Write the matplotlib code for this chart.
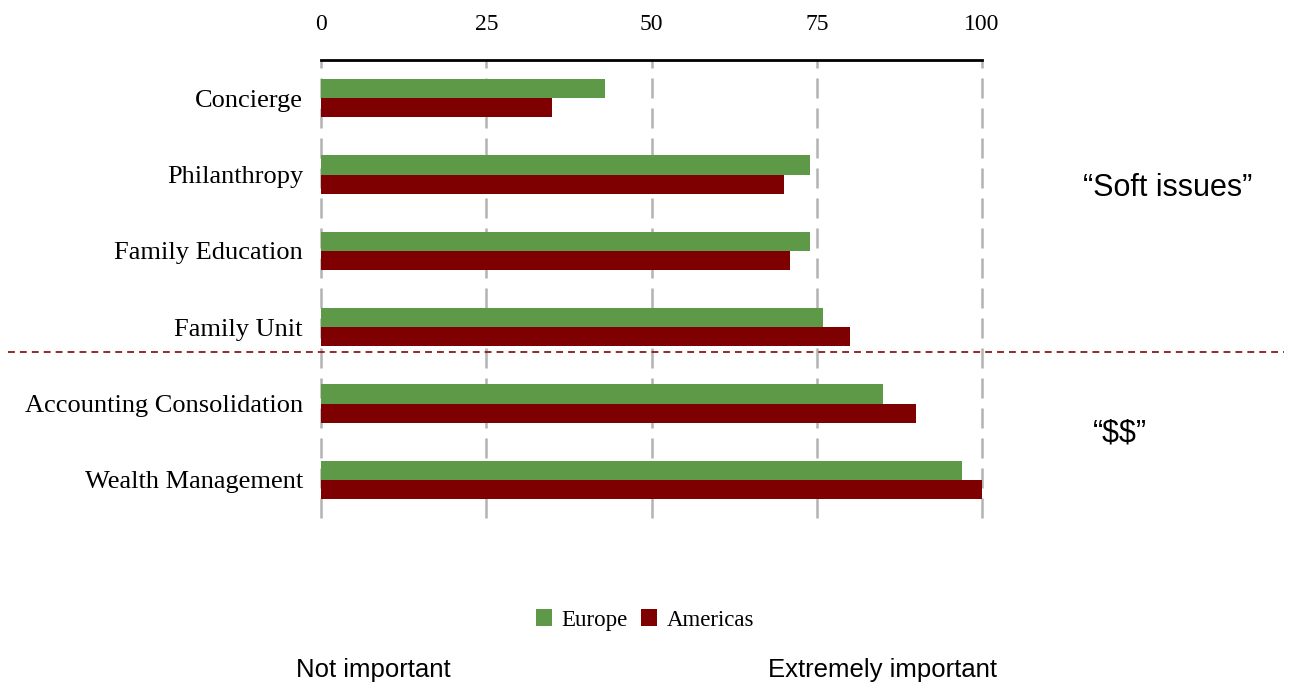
import matplotlib
matplotlib.use("Agg")
import matplotlib.pyplot as plt
import matplotlib.transforms as mtransforms
import numpy as np

CATEGORIES = ["Concierge", "Philanthropy", "Family Education", "Family Unit",
              "Accounting Consolidation", "Wealth Management"]
EUROPE = [43, 74, 74, 76, 85, 97]
AMERICAS = [35, 70, 71, 80, 90, 100]
X_TICKS = [0, 25, 50, 75, 100]

GREEN = "#5E9948"
RED = "#7F0000"
SERIF = "Liberation Serif"
SANS = "Liberation Sans"

fig = plt.figure(figsize=(12.94, 6.93), dpi=100)
ax = fig.add_axes([0.2481, 0.2525, 0.5108, 0.6609])

y = np.arange(len(CATEGORIES))
h = 0.25
ax.barh(y - h / 2, EUROPE, h, color=GREEN, label="Europe", zorder=3)
ax.barh(y + h / 2, AMERICAS, h, color=RED, label="Americas", zorder=3)

ax.set_xlim(0, 100)
ax.set_ylim(len(CATEGORIES) - 0.5, -0.5)
ax.set_xticks(X_TICKS)
ax.set_yticks(y)
ax.set_yticklabels(CATEGORIES, family=SERIF, fontsize=19)
ax.xaxis.tick_top()
ax.tick_params(axis="x", length=0, pad=18, labelsize=17)
ax.tick_params(axis="y", length=0, pad=13)
for lbl in ax.get_xticklabels():
    lbl.set_family(SERIF)

for side in ("left", "right", "bottom"):
    ax.spines[side].set_visible(False)
ax.spines["top"].set_linewidth(2)
ax.spines["top"].set_color("black")
ax.spines["top"].set_zorder(4)

# dashed vertical gridlines, including both ends of the scale
for xv in X_TICKS:
    ax.axvline(xv, color="#b3b3b3", lw=1.8, dashes=(8, 4), zorder=1, clip_on=False)

# separator between the "soft" group and the money group
split = 3.33
tr = mtransforms.blended_transform_factory(fig.transFigure, ax.transData)
ax.plot([0.006, 0.992], [split, split], transform=tr, color="#8B1A1A",
        lw=1.3, dashes=(3.8, 2.8), clip_on=False, zorder=5)

fig.text(0.9026, 1 - 188 / 693, "\u201cSoft issues\u201d", family=SANS, fontsize=22,
         ha="center", va="center")
fig.text(0.8655, 1 - 433 / 693, "\u201c\\$\\$\u201d", family=SANS, fontsize=22,
         ha="center", va="center")
fig.text(0.2287, 1 - 670 / 693, "Not important", family=SANS, fontsize=18.5,
         ha="left", va="center")
fig.text(0.5935, 1 - 670 / 693, "Extremely important", family=SANS, fontsize=18.5,
         ha="left", va="center")

fig.legend(loc="center", bbox_to_anchor=(0.4985, 1 - 620 / 693), ncol=2, frameon=False,
           prop={"family": SERIF, "size": 16.5}, handlelength=0.7, handleheight=0.7,
           handletextpad=0.4, columnspacing=0.6)

fig.savefig("out.png", dpi=100)
